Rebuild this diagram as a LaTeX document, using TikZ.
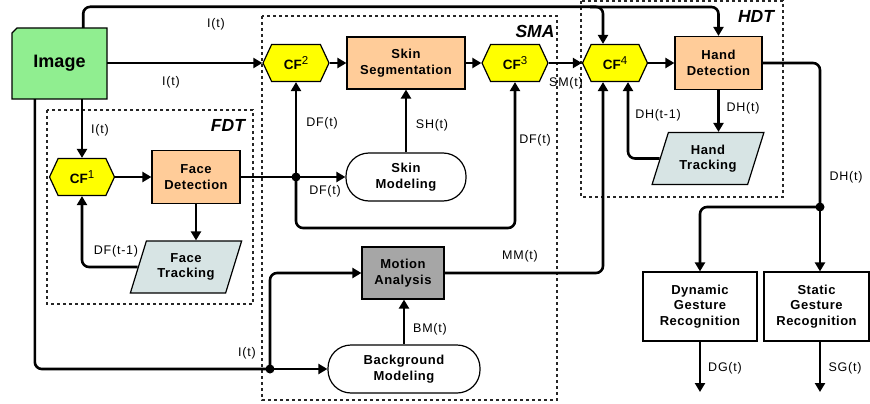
\documentclass[tikz,border=0pt]{standalone}
\usepackage{fontspec}
\setmainfont{Liberation Sans}
\newfontfamily\boxfont[LetterSpace=4]{Liberation Sans}
\newfontfamily\lblfont[LetterSpace=6]{Liberation Sans}
\usetikzlibrary{arrows.meta,shapes.geometric,shapes.symbols,calc}
\definecolor{imggreen}{HTML}{90EE90}
\definecolor{peach}{HTML}{FFCC99}
\definecolor{trackfill}{HTML}{D7E4E4}
\definecolor{magray}{HTML}{A6A6A6}
\definecolor{hexyellow}{HTML}{FFFF00}
\newcommand{\cfsup}[1]{CF\raisebox{0.38em}{\mdseries\fontsize{11.5}{11.5}\selectfont #1}}
\begin{document}
\begin{tikzpicture}[x=1pt,y=-1pt,
  conn/.style={line width=2.6pt,-{Triangle[length=9pt,width=10pt]},rounded corners=7pt},
  wire/.style={line width=2.6pt,rounded corners=7pt},
  grp/.style={line width=1.4pt,dash pattern=on 3pt off 3pt,draw=black!85},
  grplbl/.style={font=\bfseries\itshape\fontsize{17.5}{18}\selectfont,inner sep=0},
  proc/.style={draw,line width=1.2pt,fill=peach,align=center,inner sep=0,
    font=\boxfont\bfseries\fontsize{13}{15.5}\selectfont},
  plain/.style={proc,fill=white},
  hexa/.style={signal,signal to=east and west,signal pointer angle=130,draw,line width=1.2pt,
    fill=hexyellow,minimum width=65pt,minimum height=37pt,inner sep=0,
    font=\bfseries\fontsize{13.5}{13.5}\selectfont},
  track/.style={trapezium,trapezium left angle=67,trapezium right angle=113,trapezium stretches=true,
    draw,line width=1.2pt,fill=trackfill,minimum width=112pt,minimum height=52pt,inner sep=0,align=center,
    font=\boxfont\bfseries\fontsize{13}{15.5}\selectfont},
  pill/.style={proc,fill=white,rounded corners=23pt},
  lbl/.style={font=\lblfont\fontsize{12.5}{14}\selectfont,inner sep=0},
  dot/.style={circle,fill=black,inner sep=0,minimum size=9pt}
]
\useasboundingbox (0,0) rectangle (870,404);

% group boxes
\draw[grp] (47,110) rectangle (253,304);
\draw[grp] (262,16) rectangle (557,400);
\draw[grp] (581,1) rectangle (783,197);
\node[grplbl] (fdt) at (228,125) {FDT};
\node[grplbl] (sma) at (535,31) {SMA};
\node[grplbl] (hdt) at (756,16) {HDT};

% image
\fill[imggreen] (12,33) -- (17,28) -- (107,28) -- (107,99) -- (12,99) -- cycle;
\draw[line width=1.2pt] (12,33) -- (17,28) -- (107,28) -- (107,99) -- (12,99) -- cycle;
\node[minimum width=95pt,minimum height=71pt,inner sep=0,font=\bfseries\fontsize{18}{18}\selectfont] (img) at (59.5,63.5) {Image};

% nodes
\node[hexa] (cf1) at (82,177) {\cfsup{1}};
\node[proc,minimum width=88pt,minimum height=53pt] (fd) at (196,177) {Face\\Detection};
\node[track] (ft) at (186,267) {Face\\Tracking};

\node[hexa,minimum width=66pt] (cf2) at (296,63) {\cfsup{2}};
\node[proc,minimum width=118pt,minimum height=52pt] (ss) at (406,63) {Skin\\Segmentation};
\node[hexa,minimum width=66pt] (cf3) at (515,63) {\cfsup{3}};
\node[pill,minimum width=120pt,minimum height=48pt] (sm) at (406,177) {Skin\\Modeling};
\node[proc,fill=magray,minimum width=82pt,minimum height=52pt] (ma) at (403,273) {Motion\\Analysis};
\node[pill,minimum width=152pt,minimum height=48pt] (bm) at (404,369) {Background\\Modeling};

\node[hexa] (cf4) at (615,63) {\cfsup{4}};
\node[proc,minimum width=87pt,minimum height=53pt] (hd) at (718.5,63) {Hand\\Detection};
\node[track] (ht) at (708,158.5) {Hand\\Tracking};

\node[plain,minimum width=114pt,minimum height=69pt] (dgr) at (700,306.5) {Dynamic\\Gesture\\Recognition};
\node[plain,minimum width=105pt,minimum height=69pt] (sgr) at (816.5,306.5) {Static\\Gesture\\Recognition};

% junctions and free ends
\node[dot] (j1) at (270,369) {};
\node[dot] (j2) at (296,177) {};
\node[dot] (j3) at (820,207) {};
\coordinate (topsplit) at (590,7);
\coordinate (dgout) at (700,392);
\coordinate (sgout) at (820,392);

% connectors
\draw[conn] ([xshift=-24pt]img.north east) -- ++(0,-21) -| ([xshift=-12pt]cf4.north);
\draw[conn] (topsplit) -| (hd.north);
\draw[conn] (img.east |- cf2.west) -- (cf2.west);
\draw[conn] (img.south -| cf1.north) -- (cf1.north);
\draw[wire] ([xshift=23pt]img.south west) |- (j1.center);
\draw[conn] (j1.center) -- (bm.west);
\draw[conn] (j1.center) |- (ma.west);
\draw[conn] (cf1.east) -- (fd.west);
\draw[conn] (fd.south) -- (fd.south |- ft.north);
\draw[conn] (ft.west) -| (cf1.south);
\draw[wire] (fd.east) -- (j2.center);
\draw[conn] (j2.center) -- (sm.west);
\draw[conn] (j2.center) -- (cf2.south);
\draw[conn] (j2.center) -- ++(0,51) -| (cf3.south);
\draw[conn] (cf2.east) -- (ss.west);
\draw[conn] (ss.east) -- (cf3.west);
\draw[conn] (sm.north) -- (ss.south);
\draw[conn] (cf3.east) -- (cf4.west);
\draw[conn] (bm.north) -- (bm.north |- ma.south);
\draw[conn] (ma.east) -| ([xshift=-12pt]cf4.south);
\draw[conn] (cf4.east) -- (hd.west);
\draw[conn] (hd.south) -- (hd.south |- ht.north);
\draw[conn] (ht.west) -| ([xshift=13pt]cf4.south);
\draw[wire] (hd.east) -| (j3.center);
\draw[conn] (j3.center) -- (j3.center |- sgr.north);
\draw[conn] (j3.center) -| (dgr.north);
\draw[conn] (dgr.south) -- (dgout);
\draw[conn] (sgr.south -| sgout) -- (sgout);

% labels
\node[lbl] (l1) at (216,24) {I(t)};
\node[lbl] (l2) at (171,82) {I(t)};
\node[lbl] (l3) at (100,130) {I(t)};
\node[lbl] (l4) at (116,251) {DF(t-1)};
\node[lbl] (l5) at (247,353) {I(t)};
\node[lbl] (l6) at (322,123) {DF(t)};
\node[lbl] (l7) at (432,125) {SH(t)};
\node[lbl] (l8) at (535,140) {DF(t)};
\node[lbl] (l9) at (325,191) {DF(t)};
\node[lbl] (l10) at (566,83) {SM(t)};
\node[lbl] (l11) at (520,256) {MM(t)};
\node[lbl] (l12) at (430,329) {BM(t)};
\node[lbl] (l13) at (743,108) {DH(t)};
\node[lbl] (l14) at (658,115) {DH(t-1)};
\node[lbl] (l15) at (846,177) {DH(t)};
\node[lbl] (l16) at (725,368) {DG(t)};
\node[lbl] (l17) at (845,368) {SG(t)};
\end{tikzpicture}
\end{document}
